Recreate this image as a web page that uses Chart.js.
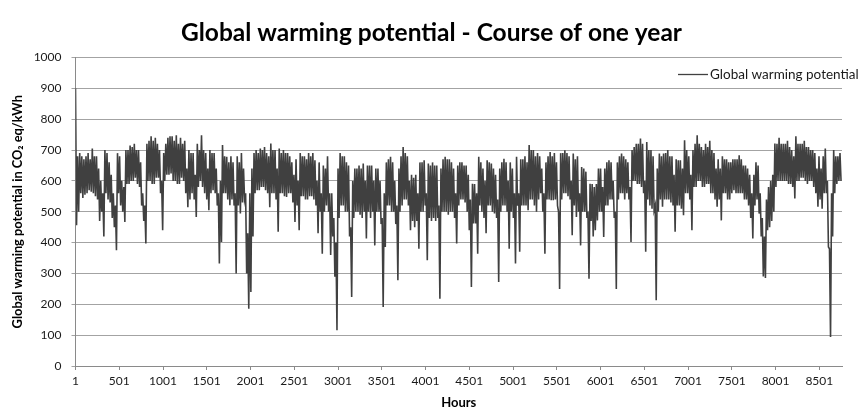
<!DOCTYPE html>
<html>
<head>
<meta charset="utf-8">
<script src="https://cdn.jsdelivr.net/npm/chart.js@4.4.0/dist/chart.umd.min.js"></script>
<style>
  html, body { margin: 0; padding: 0; background: #ffffff; }
  #wrap { position: relative; width: 863px; height: 411px; }
</style>
</head>
<body>
<div id="wrap"><canvas id="c"></canvas></div>
<script>
// ---- Texts ----
const chartTitle = 'Global warming potential - Course of one year';
const seriesName = 'Global warming potential';
const xAxisTitle = 'Hours';
const yAxisTitle = 'Global warming potential in CO\u2082 eq/kWh';

// ---- Axis ticks ----
const xTickValues = [1, 501, 1001, 1501, 2001, 2501, 3001, 3501, 4001, 4501, 5001, 5501, 6001, 6501, 7001, 7501, 8001, 8501];
const yTickValues = [0, 100, 200, 300, 400, 500, 600, 700, 800, 900, 1000];
const hourFirst = 1;
const hourLast = 8760;
const hoursPerDay = 24;
const highHourOffset = 0;   // hour within the day where the daily high is placed
const lowHourOffset = 12;   // hour within the day where the daily low is placed

// ---- Series: daily high / low of the global warming potential (g CO2 eq/kWh) ----
const dailyHigh = [
  900, 680, 690, 680, 670, 680, 690, 670, 705, 680, 680, 640, 600, 560, 700, 690, 660, 620, 560, 520,
  690, 680, 600, 580, 700, 700, 715, 710, 720, 700, 700, 660, 560, 520, 720, 730, 745, 730, 740, 720,
  700, 600, 690, 720, 740, 745, 745, 730, 748, 720, 740, 720, 730, 640, 700, 690, 690, 620, 720, 700,
  748, 700, 690, 640, 700, 690, 690, 640, 560, 600, 716, 680, 678, 660, 680, 660, 560, 680, 660, 690,
  640, 560, 430, 560, 640, 690, 700, 690, 705, 700, 710, 690, 680, 721, 700, 700, 640, 705, 690, 700,
  690, 690, 680, 660, 620, 670, 600, 690, 680, 680, 670, 690, 680, 690, 667, 600, 660, 560, 650, 640,
  680, 560, 560, 480, 400, 640, 690, 680, 680, 660, 650, 450, 600, 640, 640, 650, 640, 656, 600, 650,
  650, 650, 600, 640, 640, 600, 480, 560, 660, 670, 678, 660, 600, 520, 640, 680, 710, 690, 680, 600,
  620, 610, 620, 560, 660, 660, 667, 560, 656, 650, 660, 650, 650, 520, 640, 670, 678, 670, 670, 660,
  640, 560, 650, 660, 660, 650, 650, 620, 540, 591, 590, 560, 678, 660, 640, 600, 667, 660, 656, 640,
  620, 540, 640, 660, 672, 660, 600, 660, 640, 560, 678, 560, 670, 670, 680, 660, 716, 700, 700, 680,
  690, 680, 640, 560, 660, 680, 694, 680, 690, 660, 500, 690, 690, 699, 690, 680, 600, 689, 670, 680,
  560, 645, 640, 630, 500, 591, 590, 580, 590, 640, 640, 580, 640, 660, 667, 660, 600, 500, 660, 680,
  689, 680, 670, 660, 580, 700, 710, 720, 720, 737, 720, 600, 726, 700, 700, 680, 520, 640, 689, 680,
  689, 690, 700, 680, 680, 620, 670, 667, 667, 640, 732, 700, 680, 620, 700, 720, 748, 720, 710, 700,
  720, 710, 730, 700, 690, 640, 670, 640, 680, 670, 670, 660, 660, 670, 670, 670, 683, 670, 650, 650,
  640, 620, 560, 620, 660, 650, 560, 480, 420, 540, 580, 600, 620, 721, 720, 740, 720, 720, 720, 730,
  710, 700, 680, 745, 720, 720, 720, 730, 710, 710, 700, 700, 690, 640, 680, 640, 680, 705, 600, 380,
  560, 700, 680, 680, 690
];
const dailyLow = [
  456, 500, 560, 545, 555, 560, 570, 565, 560, 550, 540, 470, 500, 420, 560, 540, 530, 480, 450, 375,
  560, 520, 500, 467, 590, 590, 600, 600, 610, 590, 580, 520, 470, 397, 600, 600, 590, 590, 610, 610,
  560, 440, 600, 620, 620, 624, 600, 600, 590, 590, 610, 600, 560, 515, 540, 560, 540, 483, 580, 600,
  580, 560, 540, 505, 560, 570, 560, 520, 332, 402, 560, 560, 540, 521, 540, 520, 300, 520, 494, 530,
  540, 300, 186, 240, 420, 560, 570, 570, 580, 580, 570, 560, 515, 560, 560, 540, 435, 560, 560, 550,
  548, 560, 560, 530, 467, 520, 440, 550, 550, 540, 540, 550, 550, 540, 520, 430, 500, 364, 500, 520,
  500, 360, 420, 289, 116, 480, 520, 520, 500, 500, 420, 224, 480, 500, 500, 490, 480, 500, 413, 500,
  480, 500, 391, 500, 500, 460, 191, 386, 520, 520, 500, 500, 460, 278, 500, 520, 540, 540, 520, 440,
  470, 450, 470, 380, 500, 500, 520, 343, 480, 470, 480, 470, 480, 218, 500, 500, 500, 490, 500, 500,
  480, 397, 520, 540, 540, 530, 500, 440, 256, 462, 462, 364, 520, 500, 480, 430, 520, 520, 500, 494,
  480, 272, 500, 520, 520, 500, 380, 500, 480, 332, 520, 370, 520, 520, 520, 505, 540, 540, 520, 500,
  540, 560, 500, 364, 540, 540, 537, 537, 540, 520, 250, 540, 560, 560, 550, 540, 424, 520, 483, 500,
  391, 500, 500, 480, 283, 470, 420, 440, 472, 500, 500, 418, 520, 520, 540, 540, 480, 250, 540, 560,
  560, 540, 560, 540, 402, 600, 600, 590, 590, 580, 560, 370, 540, 520, 510, 505, 213, 500, 540, 516,
  540, 540, 540, 530, 520, 435, 520, 520, 510, 489, 560, 560, 540, 440, 580, 580, 600, 600, 580, 580,
  590, 590, 560, 560, 540, 516, 540, 472, 560, 560, 540, 540, 560, 570, 560, 560, 560, 560, 540, 540,
  520, 480, 413, 520, 540, 494, 420, 290, 285, 440, 450, 470, 500, 580, 600, 600, 600, 600, 600, 590,
  590, 580, 543, 600, 600, 610, 610, 600, 590, 600, 600, 580, 560, 516, 540, 510, 560, 560, 386, 94,
  420, 560, 590, 600, 600
];

// Hourly positions of the samples (high then low within each day)
const points = [];
dailyHigh.forEach((hi, d) => {
  points.push({ x: hourFirst + d * hoursPerDay + highHourOffset, y: hi });
  points.push({ x: hourFirst + d * hoursPerDay + lowHourOffset, y: dailyLow[d] });
});

// ---- Style ----
const FONT = 'Lato';
const lineColor = '#404040';

const legendInPlot = {
  id: 'legendInPlot',
  afterDraw(chart) {
    const { ctx, chartArea } = chart;
    const y = chartArea.top + 17;
    const x0 = chartArea.right - 164;
    ctx.save();
    ctx.strokeStyle = lineColor;
    ctx.lineWidth = 1.3;
    ctx.beginPath();
    ctx.moveTo(x0, y);
    ctx.lineTo(x0 + 30, y);
    ctx.stroke();
    ctx.fillStyle = '#1a1a1a';
    ctx.font = '13.5px ' + FONT;
    ctx.textBaseline = 'middle';
    ctx.textAlign = 'left';
    ctx.fillText(seriesName, x0 + 32, y);
    ctx.restore();
  }
};

new Chart(document.getElementById('c'), {
  type: 'line',
  data: {
    datasets: [{
      label: seriesName,
      data: points,
      borderColor: lineColor,
      borderWidth: 1.6,
      pointRadius: 0,
      tension: 0,
      fill: false,
      yAxisID: 'y'
    }]
  },
  options: {
    responsive: true,
    maintainAspectRatio: false,
    animation: false,
    layout: { padding: 0 },
    plugins: {
      legend: { display: false },
      tooltip: { enabled: false },
      title: {
        display: true,
        text: chartTitle,
        color: '#000',
        font: { family: FONT, size: 24.5, weight: 'bold' },
        padding: { top: 18.3, bottom: 9.8 }
      }
    },
    scales: {
      x: {
        type: 'linear',
        min: hourFirst,
        max: hourLast,
        afterBuildTicks: s => { s.ticks = xTickValues.map(v => ({ value: v })); },
        afterFit: s => { s.height = 45; },
        grid: { drawOnChartArea: false, drawTicks: true, tickLength: 4, color: '#8a8a8a' },
        border: { color: '#8a8a8a', width: 1 },
        ticks: { font: { family: FONT, size: 12 }, color: '#1a1a1a', padding: 4, maxRotation: 0, autoSkip: false, callback: v => String(v) },
        title: { display: true, text: xAxisTitle, color: '#000', font: { family: FONT, size: 13, weight: 'bold' }, padding: { top: 0, bottom: 0 } }
      },
      y: {
        position: 'left',
        min: yTickValues[0],
        max: yTickValues[yTickValues.length - 1],
        afterBuildTicks: s => { s.ticks = yTickValues.map(v => ({ value: v })); },
        afterFit: s => { s.width = 75.5; },
        grid: { color: '#a3a3a3', tickLength: 4, drawTicks: true },
        border: { color: '#8a8a8a', width: 1 },
        ticks: { font: { family: FONT, size: 12 }, color: '#1a1a1a', padding: 10, callback: v => String(v) },
        title: { display: true, text: yAxisTitle, color: '#000', font: { family: FONT, size: 12.8, weight: 'bold' }, padding: { top: 10, bottom: 0 } }
      },
      rightSpace: {
        position: 'right',
        display: true,
        min: 0,
        max: 1,
        afterFit: s => { s.width = 21; },
        grid: { display: false, drawTicks: false },
        border: { display: false },
        ticks: { display: false }
      }
    }
  },
  plugins: [legendInPlot]
});
</script>
</body>
</html>
